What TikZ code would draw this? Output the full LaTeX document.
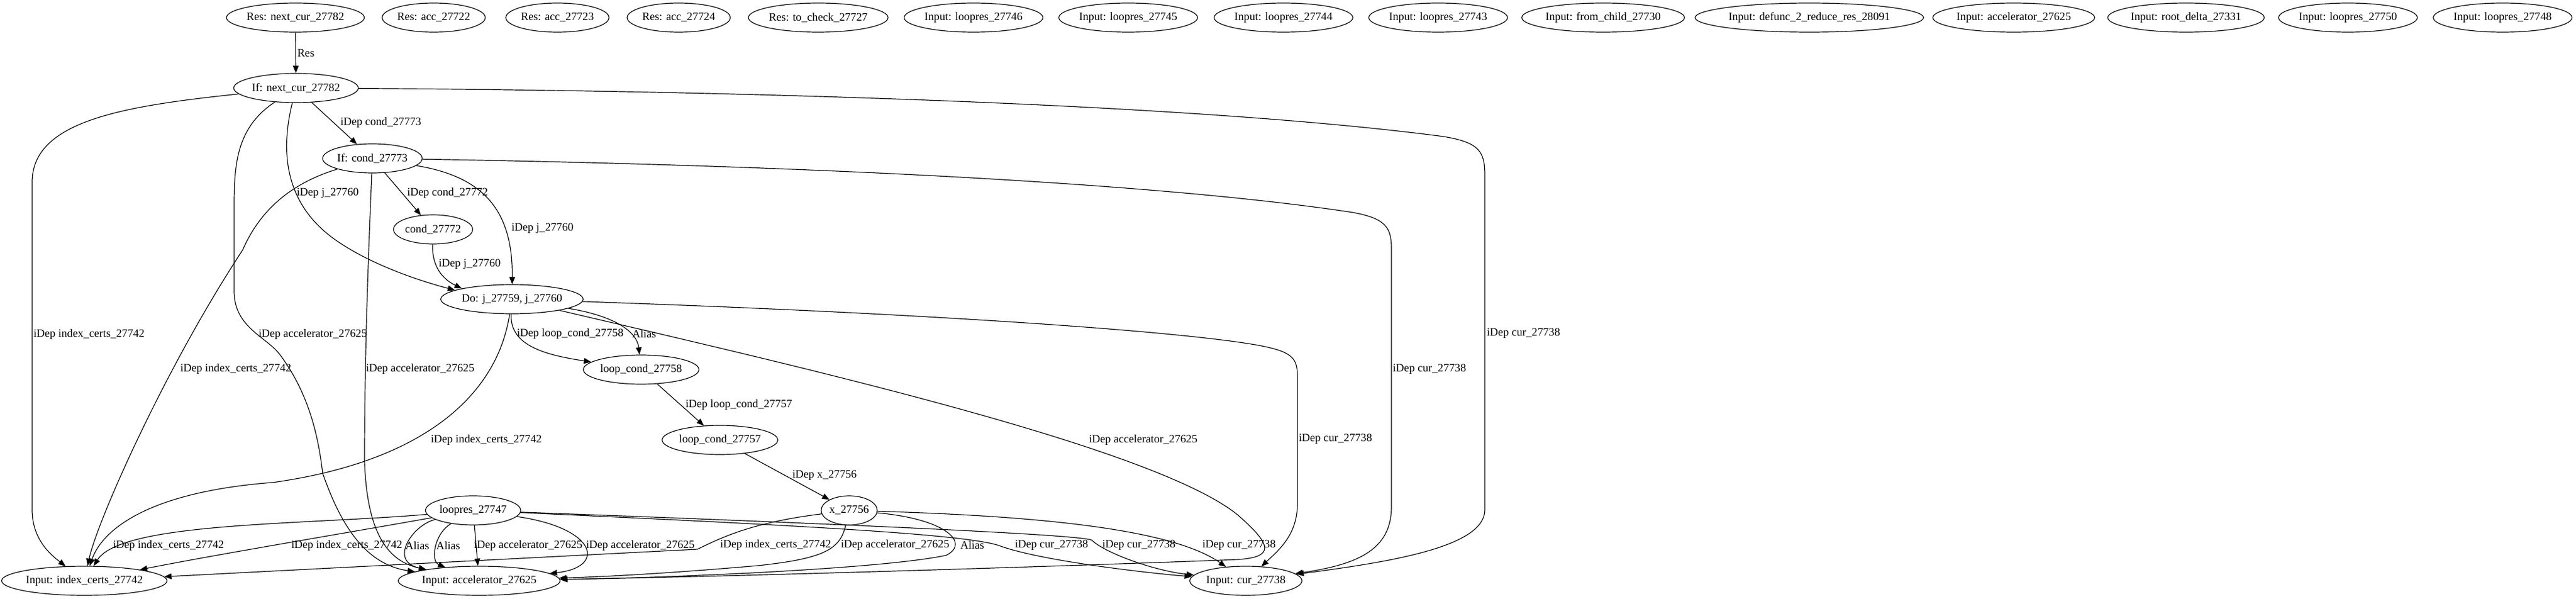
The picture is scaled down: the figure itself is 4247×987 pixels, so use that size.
\documentclass[tikz,border=0pt]{standalone}
\usepackage{fontspec}
\setmainfont{Liberation Serif}
\usetikzlibrary{shapes.geometric, arrows.meta}

\begin{document}
\begin{tikzpicture}[x=0.75pt, y=-0.75pt,
    gnode/.style={draw, ellipse, line width=0.9pt, inner xsep=0pt, inner ysep=0pt,
        minimum height=36pt, minimum width=54pt, font=\fontsize{14pt}{16pt}\selectfont},
    elabel/.style={anchor=west, inner sep=0pt, font=\fontsize{14pt}{16pt}\selectfont},
    dep/.style={-{Triangle[length=9pt, width=7pt]}, line width=0.9pt}]

\useasboundingbox (0,0) rectangle (4247,987);

% Results and inputs along the top
\foreach \x/\nm/\txt in {
    487/resnext/{Res: next\_cur\_27782},
    715/racc22/{Res: acc\_27722},
    919/racc23/{Res: acc\_27723},
    1119/racc24/{Res: acc\_27724},
    1349/rcheck/{Res: to\_check\_27727},
    1605/in46/{Input: loopres\_27746},
    1860/in45/{Input: loopres\_27745},
    2116/in44/{Input: loopres\_27744},
    2371/in43/{Input: loopres\_27743},
    2643/inchild/{Input: from\_child\_27730},
    2983/indefunc/{Input: defunc\_2\_reduce\_res\_28091},
    3320/inacc/{Input: accelerator\_27625},
    3604/inroot/{Input: root\_delta\_27331},
    3871/in50/{Input: loopres\_27750},
    4126/in48/{Input: loopres\_27748}}
{
    \node[gnode] (\nm) at (\x,29) {\txt};
}

% Inner nodes
\node[gnode] (ifnext) at (488,145) {If: next\_cur\_27782};
\node[gnode] (ifcond) at (614,261) {If: cond\_27773};
\node[gnode] (cond) at (714,378) {cond\_27772};
\node[gnode] (doj) at (844,493) {Do: j\_27759, j\_27760};
\node[gnode] (lc58) at (1057,609) {loop\_cond\_27758};
\node[gnode] (lc57) at (1187,725) {loop\_cond\_27757};
\node[gnode] (lp47) at (780,841) {loopres\_27747};
\node[gnode] (x56) at (1400,841) {x\_27756};

% Inputs along the bottom
\node[gnode] (certs) at (139,957) {Input: index\_certs\_27742};
\node[gnode] (accel) at (790,957) {Input: accelerator\_27625};
\node[gnode] (cur) at (2054,957) {Input: cur\_27738};

% Res edge
\draw[dep] (resnext) -- (ifnext);
\node[elabel] (eres) at (490,87) {Res};

% Edges out of If: next_cur_27782
\draw[dep] (ifnext) -- (ifcond);
\node[elabel] (en1) at (561,202) {iDep cond\_27773};
\draw[dep] (ifnext) .. controls (200,175) and (53,200) .. (53,300) -- (53,840) .. controls (53,890) and (85,915) .. (certs);
\node[elabel] (en2) at (55,551) {iDep index\_certs\_27742};
\draw[dep] (ifnext) .. controls (390,210) and (386,270) .. (386,340) -- (386,480) .. controls (386,540) and (440,555) .. (462,585) .. controls (510,650) and (525,720) .. (532,780) .. controls (560,860) and (600,930) .. (accel);
\node[elabel] (en3) at (426,551) {iDep accelerator\_27625};
\draw[dep] (ifnext) .. controls (462,250) and (468,340) .. (560,400) .. controls (620,440) and (700,465) .. (doj.171);
\node[elabel] (en4) at (489,318) {iDep j\_27760};
\draw[dep] (ifnext) .. controls (1300,150) and (2000,175) .. (2380,225) .. controls (2440,235) and (2448,250) .. (2448,290) -- (2448,840) .. controls (2448,900) and (2300,925) .. (cur);
\node[elabel] (en5) at (2451,549) {iDep cur\_27738};

% Edges out of If: cond_27773
\draw[dep] (ifcond) -- (cond);
\node[elabel] (ec1) at (671,318) {iDep cond\_27772};
\draw[dep] (ifcond) .. controls (790,290) and (846,340) .. (doj);
\node[elabel] (ec2) at (843,376) {iDep j\_27760};
\draw[dep] (ifcond) .. controls (470,305) and (425,355) .. (400,412) .. controls (270,610) and (160,860) .. (certs);
\node[elabel] (ec3) at (297,608) {iDep index\_certs\_27742};
\draw[dep] (ifcond) .. controls (606,450) and (601,600) .. (601,760) .. controls (605,880) and (640,925) .. (accel);
\node[elabel] (ec4) at (603,608) {iDep accelerator\_27625};
\draw[dep] (ifcond) .. controls (1300,272) and (1900,300) .. (2230,350) .. controls (2285,360) and (2294,375) .. (2294,410) -- (2294,835) .. controls (2294,905) and (2240,930) .. (cur);
\node[elabel] (ec5) at (2296,608) {iDep cur\_27738};

\draw[dep] (cond) .. controls (712,440) and (730,460) .. (doj.168);
\node[elabel] (ed0) at (723,435) {iDep j\_27760};

% Edges out of Do: j_27759, j_27760
\draw[dep] (doj) .. controls (840,570) and (900,585) .. (lc58);
\node[elabel] (ed1) at (852,550) {iDep loop\_cond\_27758};
\draw[dep] (doj) .. controls (1010,520) and (1050,545) .. (lc58);
\node[elabel] (ed2) at (1042,550) {Alias};
\draw[dep] (doj) .. controls (820,650) and (700,760) .. (450,795) .. controls (250,810) and (170,870) .. (certs);
\node[elabel] (ed3) at (710,725) {iDep index\_certs\_27742};
\draw[dep] (doj) .. controls (1300,600) and (1900,735) .. (2040,848) .. controls (2100,900) and (2100,918) .. (2040,922) .. controls (1700,935) and (1200,950) .. (accel);
\node[elabel] (ed4) at (1795,725) {iDep accelerator\_27625};
\draw[dep] (doj) .. controls (1500,515) and (1950,545) .. (2080,570) .. controls (2130,580) and (2139,590) .. (2139,620) -- (2139,830) .. controls (2139,880) and (2110,905) .. (cur);
\node[elabel] (ed5) at (2141,723) {iDep cur\_27738};

% Loop conditions
\draw[dep] (lc58) -- (lc57);
\node[elabel] (el1) at (1130,667) {iDep loop\_cond\_27757};
\draw[dep] (lc57) -- (x56);
\node[elabel] (el2) at (1306,783) {iDep x\_27756};

% Edges out of loopres_27747
\draw[dep] (lp47) .. controls (500,865) and (200,860) .. (certs);
\node[elabel] (ep1) at (186,899) {iDep index\_certs\_27742};
\draw[dep] (lp47) .. controls (560,880) and (350,915) .. (certs);
\node[elabel] (ep2) at (480,899) {iDep index\_certs\_27742};
\draw[dep] (lp47) .. controls (680,865) and (640,925) .. (accel);
\node[elabel] (ep3) at (668,899) {Alias};
\draw[dep] (lp47) .. controls (715,880) and (710,925) .. (accel);
\node[elabel] (ep4) at (719,899) {Alias};
\draw[dep] (lp47) -- (accel);
\node[elabel] (ep5) at (781,899) {iDep accelerator\_27625};
\draw[dep] (lp47) .. controls (985,870) and (1000,935) .. (accel);
\node[elabel] (ep6) at (966,899) {iDep accelerator\_27625};
\draw[dep] (lp47) .. controls (1300,865) and (1600,880) .. (1650,900) .. controls (1720,925) and (1900,945) .. (cur);
\node[elabel] (ep7) at (1673,898) {iDep cur\_27738};
\draw[dep] (lp47) .. controls (1300,860) and (1780,880) .. (1800,890) .. controls (1820,910) and (1900,940) .. (cur);
\node[elabel] (ep8) at (1817,898) {iDep cur\_27738};

% Edges out of x_27756
\draw[dep] (x56) .. controls (1250,860) and (1200,880) .. (1150,905) -- (certs);
\node[elabel] (ex1) at (1187,898) {iDep index\_certs\_27742};
\draw[dep] (x56) .. controls (1385,905) and (1360,920) .. (1250,932) .. controls (1100,945) and (1000,950) .. (accel);
\node[elabel] (ex2) at (1386,898) {iDep accelerator\_27625};
\draw[dep] (x56) .. controls (1560,855) and (1600,895) .. (1560,915) .. controls (1450,938) and (1100,952) .. (accel);
\node[elabel] (ex3) at (1583,898) {Alias};
\draw[dep] (x56) .. controls (1700,850) and (1930,870) .. (cur);
\node[elabel] (ex4) at (1982,898) {iDep cur\_27738};

\end{tikzpicture}
\end{document}
